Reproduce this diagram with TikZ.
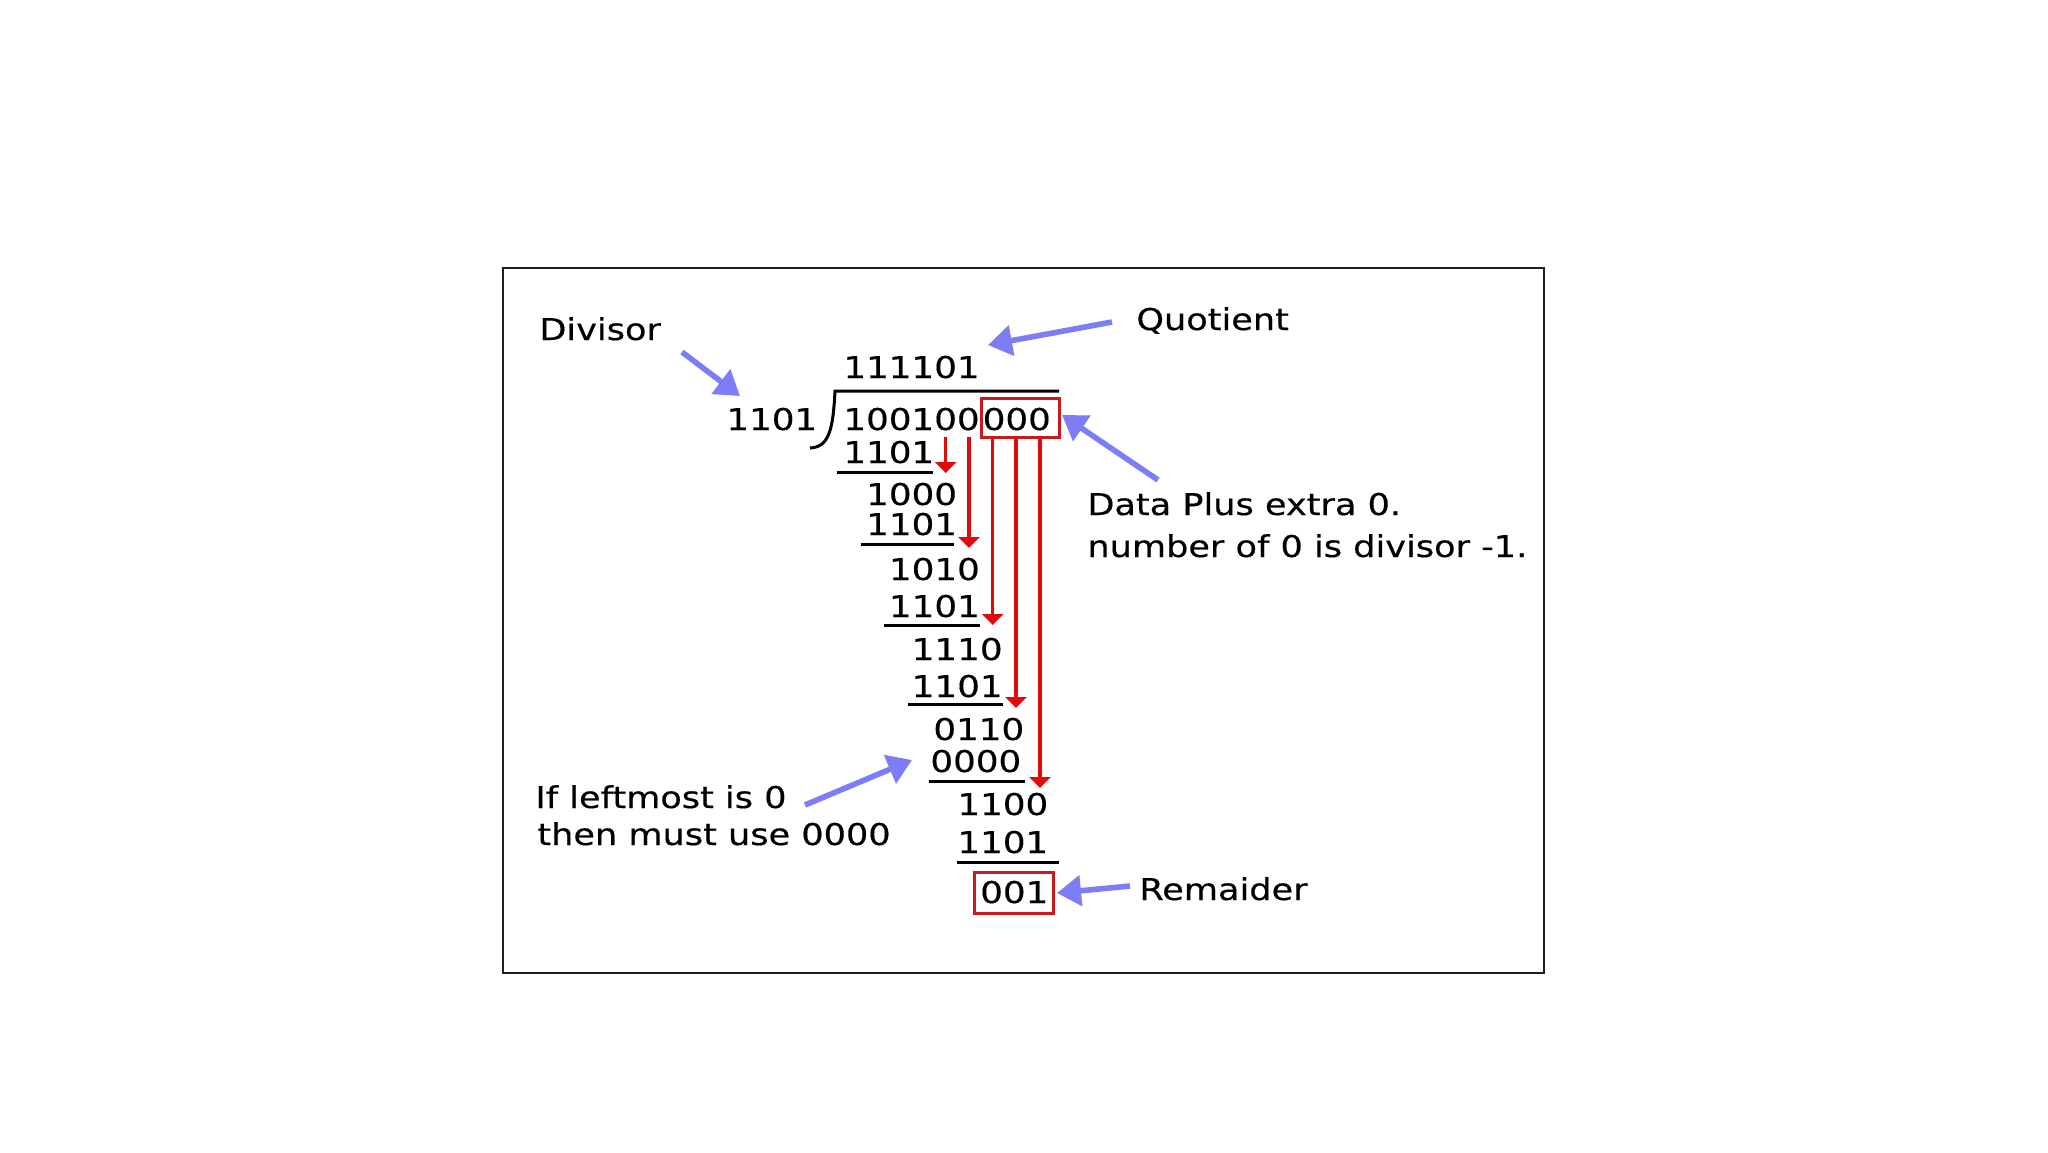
\documentclass[tikz,border=0pt]{standalone}
\usepackage{fontspec}
\setmainfont{DejaVu Sans}
\newfontfamily\digitfont[FakeStretch=1.19,FakeBold=0.4]{DejaVu Sans}
\newfontfamily\labelfont[FakeStretch=1.17,FakeBold=0.4]{DejaVu Sans}
\usetikzlibrary{arrows.meta}
\definecolor{blu}{RGB}{125,125,245}
\definecolor{redA}{RGB}{225,10,10}
\definecolor{boxred}{RGB}{205,25,30}
\definecolor{framec}{RGB}{30,30,30}
\begin{document}
\begin{tikzpicture}[x=0.5pt,y=-0.5pt,
  num/.style={anchor=base west, inner sep=0pt, font=\digitfont\fontsize{15}{18}\selectfont},
  lab/.style={anchor=base west, inner sep=0pt, font=\labelfont\fontsize{15}{18}\selectfont},
  rule/.style={line width=1.5pt, black},
  redarrow/.style={draw=redA, line width=1.6pt, -{Triangle[length=5.5pt,width=10.5pt]}},
  bluearrow/.style={draw=blu, line width=2.8pt, -{Triangle[length=12pt,width=15pt]}},
  redbox/.style={draw=boxred, line width=1.5pt}]
\useasboundingbox (0,0) rectangle (2048,1152);
\fill[white] (0,0) rectangle (2048,1152);
\draw[line width=1.4pt, draw=framec] (503,268) rectangle (1544,973);

% division bracket
\draw[line width=1.5pt] (810,448) .. controls (829,447) and (833,430) .. (835,391) -- (1059,391);

% numbers
\node[num] (quot) at (843,378) {111101};
\node[num] (dvs) at (726,430) {1101};
\node[num] (dvd) at (843,430) {100100};
\node[num] (ext) at (982.3,430) {000};
\draw[redbox] (981,398) rectangle (1059,437);

\node[num] (s1) at (843,463) {1101};
\draw[rule] (837,472) -- (933,472);
\node[num] (r1) at (865.8,505) {1000};
\node[num] (s2) at (865.8,535) {1101};
\draw[rule] (861,544) -- (954,544);
\node[num] (r2) at (888.6,580) {1010};
\node[num] (s3) at (888.6,617) {1101};
\draw[rule] (884,625) -- (980,625);
\node[num] (r3) at (911.4,660) {1110};
\node[num] (s4) at (911.4,697) {1101};
\draw[rule] (908,704) -- (1003,704);
\node[num] (r4) at (933,740) {0110};
\node[num] (s5) at (930,772) {0000};
\draw[rule] (929,781) -- (1025,781);
\node[num] (r5) at (957,815) {1100};
\node[num] (s6) at (957,853) {1101};
\draw[rule] (957,862) -- (1059,862);
\node[num] (rem) at (979.8,903) {001};
\draw[redbox] (974,872) rectangle (1053,913);

% red bring-down arrows
\coordinate (a1t) at (945.7,437); \coordinate (a1b) at (945.7,473);
\coordinate (a2t) at (969,437);   \coordinate (a2b) at (969,548);
\coordinate (a3t) at (992.7,438); \coordinate (a3b) at (992.7,625);
\coordinate (a4t) at (1016,438);  \coordinate (a4b) at (1016,708);
\coordinate (a5t) at (1040,438);  \coordinate (a5b) at (1040,788);
\draw[redarrow] (a1t) -- (a1b);
\draw[redarrow] (a2t) -- (a2b);
\draw[redarrow] (a3t) -- (a3b);
\draw[redarrow] (a4t) -- (a4b);
\draw[redarrow] (a5t) -- (a5b);

% labels
\node[lab] (ldiv) at (539,340) {Divisor};
\node[lab] (lquo) at (1136,330) {Quotient};
\node[lab] (ldata1) at (1087,515) {Data Plus extra 0.};
\node[lab] (ldata2) at (1087,557) {number of 0 is divisor -1.};
\node[lab] (lif1) at (535,808) {If leftmost is 0};
\node[lab] (lif2) at (537,845) {then must use 0000};
\node[lab] (lrem) at (1139,900) {Remaider};

% blue pointer arrows
\coordinate (bd1) at (682,352);  \coordinate (bd2) at (740,396);
\coordinate (bq1) at (1112,322); \coordinate (bq2) at (988,345);
\coordinate (bx1) at (1158,480); \coordinate (bx2) at (1062,415);
\coordinate (bl1) at (805,805);  \coordinate (bl2) at (912,760);
\coordinate (br1) at (1130,886); \coordinate (br2) at (1057,893);
\draw[bluearrow] (bd1) -- (bd2);
\draw[bluearrow] (bq1) -- (bq2);
\draw[bluearrow] (bx1) -- (bx2);
\draw[bluearrow] (bl1) -- (bl2);
\draw[bluearrow] (br1) -- (br2);
\end{tikzpicture}
\end{document}
